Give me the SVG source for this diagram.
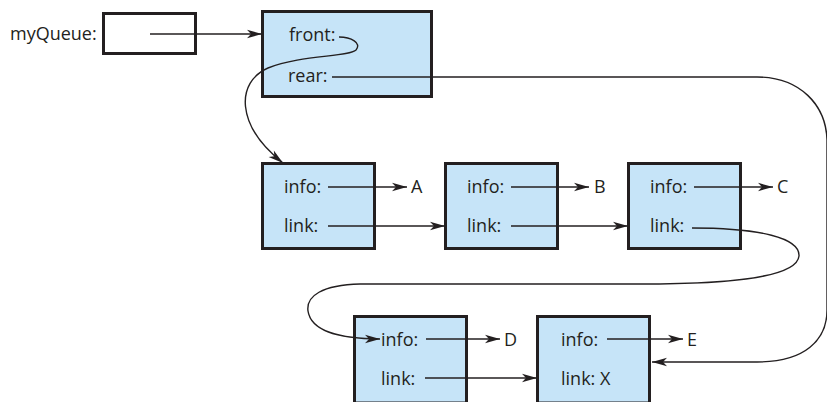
<svg xmlns="http://www.w3.org/2000/svg" width="827" height="402" viewBox="0 0 827 402">
<defs>
<marker id="ah" markerUnits="userSpaceOnUse" markerWidth="16" markerHeight="10" refX="15" refY="5" orient="auto" overflow="visible">
<path d="M0,0.8 L15,5 L0,9.2 L4,5 z" fill="#231f20"/>
</marker>
<style>
.box{fill:#c6e4f8;stroke:#231f20;stroke-width:3}
.wbox{fill:#ffffff;stroke:#231f20;stroke-width:3}
.t{font-family:"Open Sans","Noto Sans",sans-serif;font-size:18px;fill:#231f20}
.c{fill:none;stroke:#231f20;stroke-width:1.4}
.a{marker-end:url(#ah)}
</style>
</defs>
<rect width="827" height="402" fill="#ffffff"/>

<g id="myQueue">
<text class="t" x="10" y="40">myQueue:</text>
<rect class="wbox" x="103.5" y="13.5" width="92" height="40"/>
</g>

<g id="queue">
<rect class="box" x="262.5" y="11.5" width="169" height="85"/>
<text class="t" x="289" y="41">front:</text>
<text class="t" x="288" y="82">rear:</text>
</g>

<g id="nodeA">
<rect class="box" x="262.5" y="163.5" width="112" height="85"/>
<text class="t" x="284" y="193">info:</text>
<text class="t" x="284" y="232">link:</text>
<text class="t" x="411" y="193">A</text>
</g>

<g id="nodeB">
<rect class="box" x="445.5" y="163.5" width="112" height="85"/>
<text class="t" x="467" y="193">info:</text>
<text class="t" x="467" y="232">link:</text>
<text class="t" x="594" y="193">B</text>
</g>

<g id="nodeC">
<rect class="box" x="628.5" y="163.5" width="112" height="85"/>
<text class="t" x="650" y="193">info:</text>
<text class="t" x="650" y="232">link:</text>
<text class="t" x="777" y="193">C</text>
</g>

<g id="nodeD">
<rect class="box" x="354.5" y="316.5" width="112" height="86.5"/>
<text class="t" x="381" y="346">info:</text>
<text class="t" x="381" y="385">link:</text>
<text class="t" x="504" y="346">D</text>
</g>

<g id="nodeE">
<rect class="box" x="537.5" y="316.5" width="112" height="86.5"/>
<text class="t" x="561" y="346">info:</text>
<text class="t" x="561" y="385">link: X</text>
<text class="t" x="687" y="346">E</text>
</g>

<g id="connectors">
<path class="c a" d="M150,34 L262,34"/>
<path class="c a" d="M339,37 C351,37 362,43 356,50 C349,57 300,55 268,68 C236,82 235,125 283,163"/>
<path class="c a" d="M332,77 L757,77 C800,77 826,105 827,140 L827,310 C827,340 805,362 757,362 L652,362"/>
<path class="c a" d="M328,187 L407,187"/>
<path class="c a" d="M328,226 L445,226"/>
<path class="c a" d="M511,187 L589,187"/>
<path class="c a" d="M511,226 L628,226"/>
<path class="c a" d="M694,187 L773,187"/>
<path class="c a" d="M692,228 C760,228 800,238 799,256 C797,276 740,284 640,284 L360,284 C322,285 306,296 308,311 C311,331 340,339 380,339"/>
<path class="c a" d="M426,339 L500,339"/>
<path class="c a" d="M425,378 L537,378"/>
<path class="c a" d="M607,339 L683,339"/>
</g>
</svg>
